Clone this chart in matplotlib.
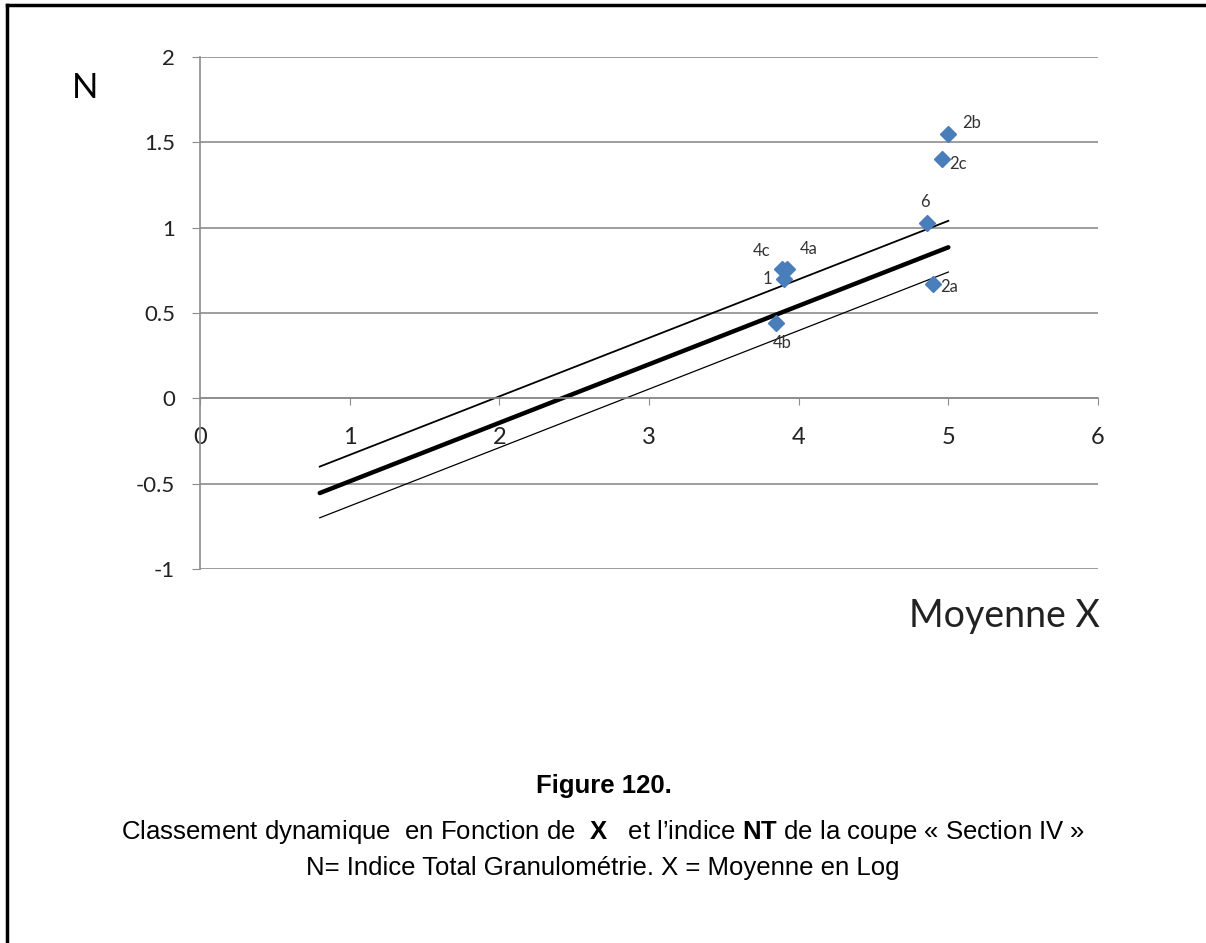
import matplotlib
matplotlib.use("Agg")
import matplotlib.pyplot as plt
from matplotlib.lines import Line2D

plt.rcParams['mathtext.fontset'] = 'custom'
plt.rcParams['mathtext.rm'] = 'Liberation Sans'
plt.rcParams['mathtext.bf'] = 'Liberation Sans:bold'

# points (Moyenne X, N)
labels = ['2b', '2c', '6', '4c', '4a', '1', '4b', '2a']
x_pts = [5.00, 4.96, 4.86, 3.89, 3.92, 3.90, 3.85, 4.90]
n_pts = [1.55, 1.40, 1.03, 0.755, 0.755, 0.70, 0.44, 0.67]
# label offsets in points
lab_dx = [17, 11, -2, -15, 16, -12, 4, 11]
lab_dy = [8, -3, 15, 13, 15, 0, -14, -2]

# trend line and envelopes
line_x = [0.8, 5.0]
line_mid = [-0.555, 0.885]
line_up = [-0.40, 1.04]
line_lo = [-0.70, 0.74]

xticks = [0, 1, 2, 3, 4, 5, 6]
yticks = [-1, -0.5, 0, 0.5, 1, 1.5, 2]

fig = plt.figure(figsize=(12.06, 9.43), dpi=100)
ax = fig.add_axes([200/1206, 1-569/943, 898/1206, 512/943])
ax.set_xlim(0, 6)
ax.set_ylim(-1, 2)

grid_c = '#8c8c8c'
for s in ['top', 'right']:
    ax.spines[s].set_visible(False)
ax.spines['left'].set_position(('data', 0))
ax.spines['bottom'].set_position(('data', 0))
ax.spines['left'].set_color(grid_c)
ax.spines['bottom'].set_color(grid_c)
ax.spines['left'].set_linewidth(1.2)
ax.spines['bottom'].set_linewidth(1.2)
ax.yaxis.grid(True, color=grid_c, linewidth=1.2)
ax.set_axisbelow(True)

ax.set_xticks(xticks)
ax.set_xticklabels([str(v) for v in xticks])
ax.set_yticks(yticks)
ax.set_yticklabels(['-1', '-0.5', '0', '0.5', '1', '1.5', '2'])
ax.tick_params(axis='x', direction='out', length=5, color=grid_c, pad=16,
               labelsize=17, labelcolor='#222222')
ax.tick_params(axis='y', direction='out', length=6, color=grid_c, pad=12,
               labelsize=16, labelcolor='#222222')
for t in ax.get_xticklabels() + ax.get_yticklabels():
    t.set_family('Lato')

ax.plot(line_x, line_up, color='black', linewidth=1.3)
ax.plot(line_x, line_lo, color='black', linewidth=0.9)
ax.plot(line_x, line_mid, color='black', linewidth=3.2, solid_capstyle='round')

ax.plot(x_pts, n_pts, linestyle='none', marker='D', markersize=8.5,
        color='#4a7ebb', zorder=5)
for lab, x, y, dx, dy in zip(labels, x_pts, n_pts, lab_dx, lab_dy):
    ax.annotate(lab, (x, y), xytext=(dx, dy), textcoords='offset points',
                ha='center', va='center', fontsize=12, family='Lato',
                color='#333333')

fig.text(85/1206, 1-88/943, 'N', fontsize=25, family='Lato', ha='center', va='center')
fig.text(1100/1206, 1-627/943, 'Moyenne X', fontsize=27, family='Lato',
         ha='right', va='baseline', color='#222222')

fig.text(604/1206, 1-786/943, 'Figure 120.', fontsize=18.5, family='Liberation Sans',
         weight='bold', ha='center', va='center')
fig.text(603/1206, 1-832/943,
         r"Classement dynamique  en Fonction de  $\mathbf{X}$   et l’indice $\mathbf{NT}$ de la coupe « Section IV »",
         fontsize=18.5, family='Liberation Sans', ha='center', va='center')
fig.text(603/1206, 1-868/943, 'N= Indice Total Granulométrie. X = Moyenne en Log',
         fontsize=18.5, family='Liberation Sans', ha='center', va='center')

# page frame (top and left edges)
fig.add_artist(Line2D([7/1206, 1], [1-5/943, 1-5/943], color='black', linewidth=2.5,
                      transform=fig.transFigure))
fig.add_artist(Line2D([7/1206, 7/1206], [0, 1-5/943], color='black', linewidth=2.5,
                      transform=fig.transFigure))

fig.savefig('out.png', dpi=100)
